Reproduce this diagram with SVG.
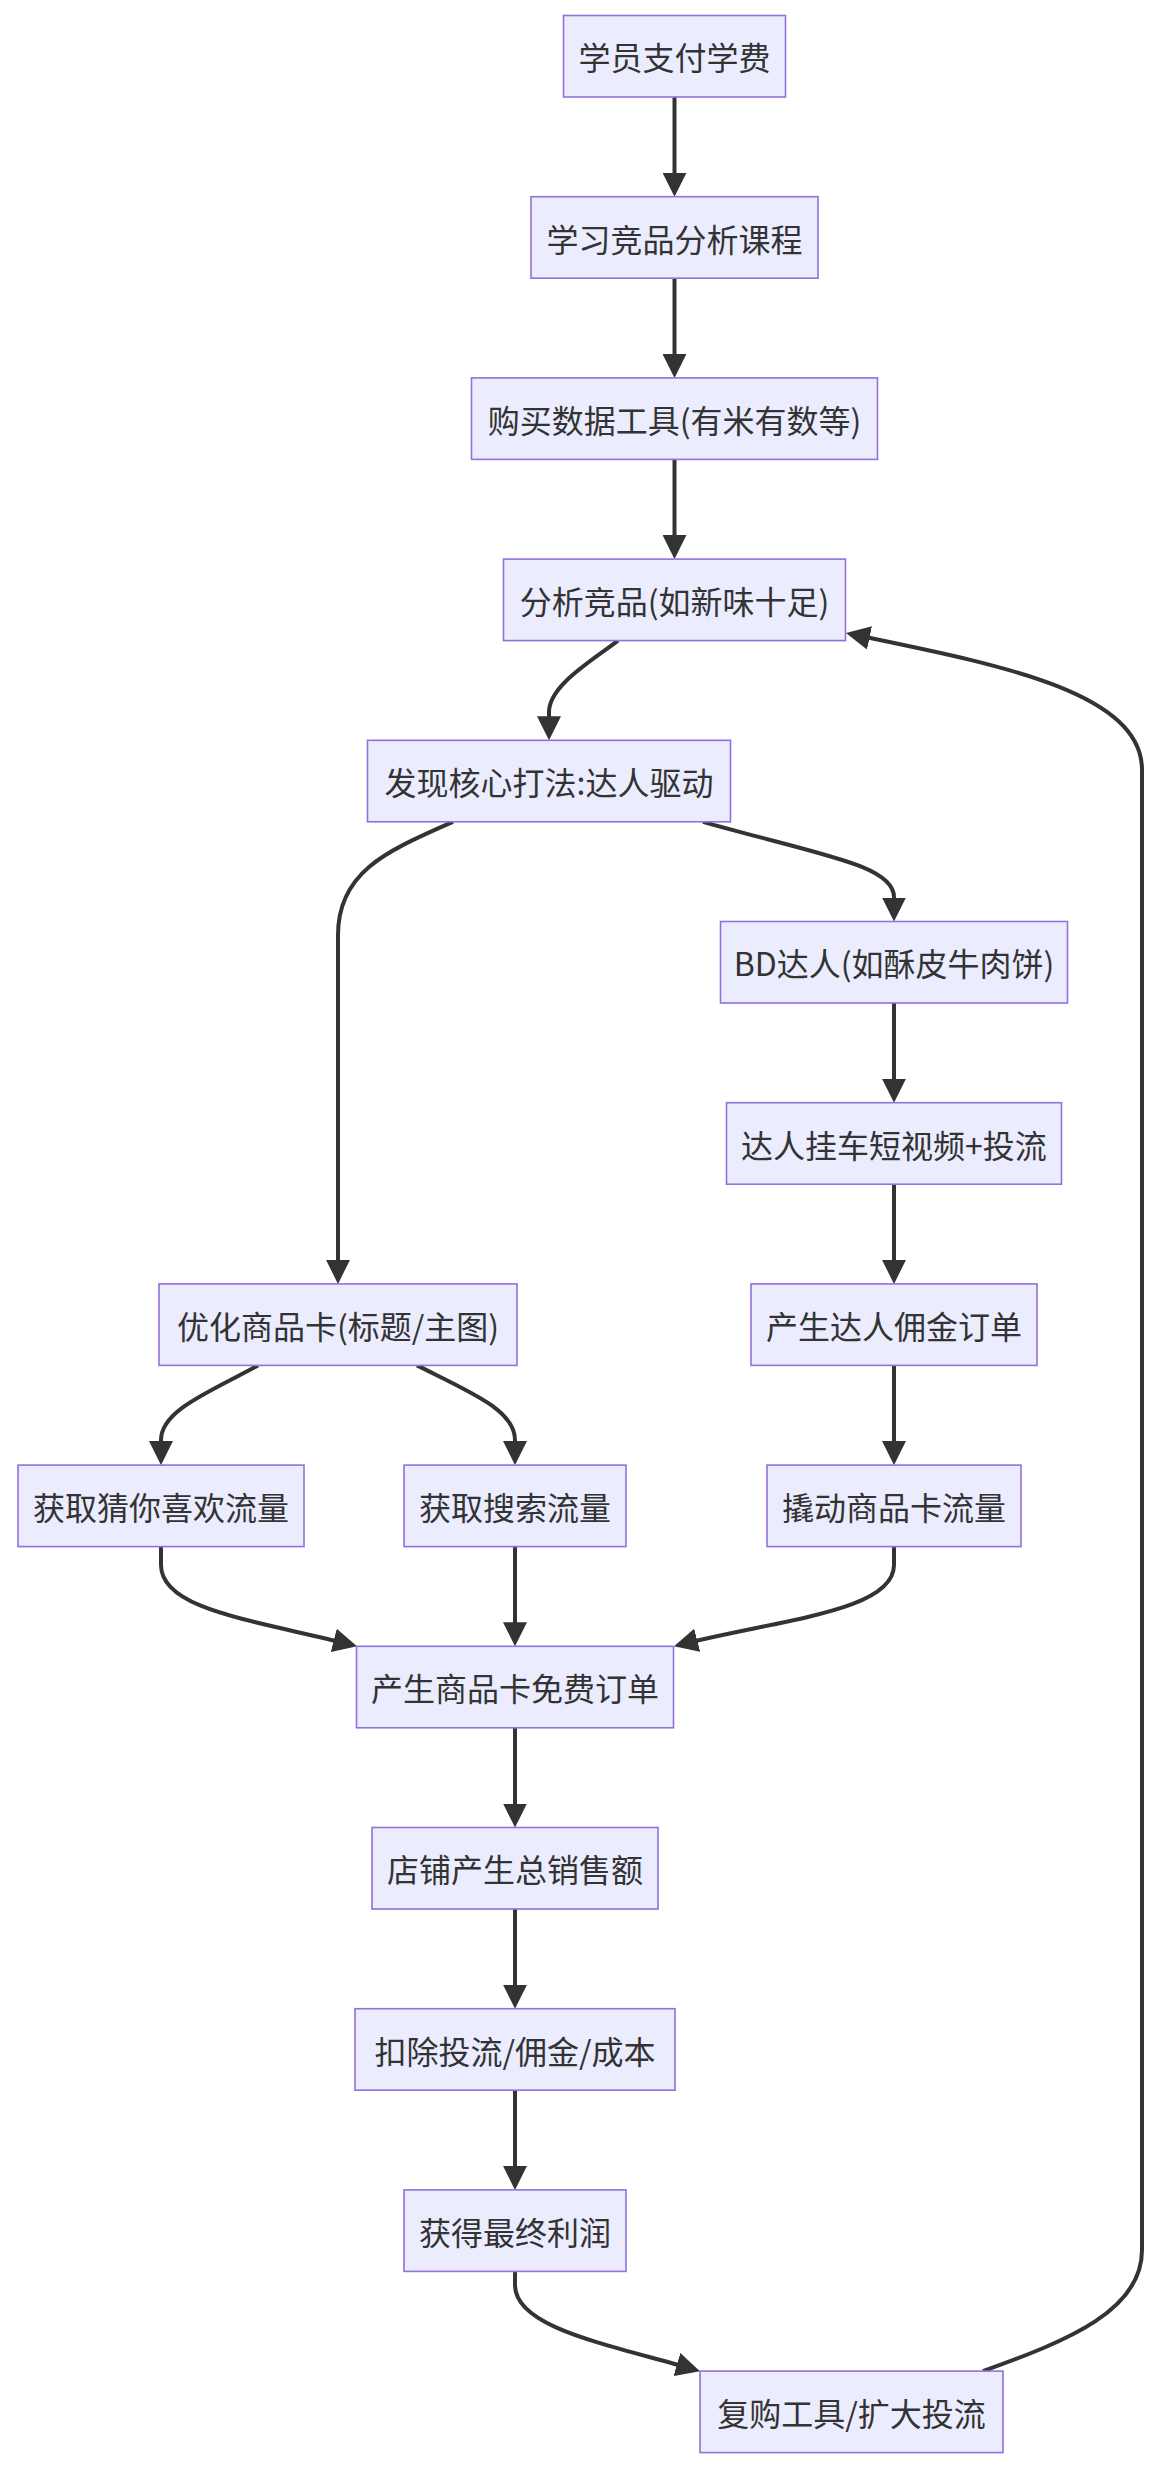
<svg xmlns="http://www.w3.org/2000/svg" width="1160" height="2470" viewBox="0 0 1160 2470">
<style>
.node rect{fill:#ECECFF;stroke:#9370DB;stroke-width:1.6}
.node text{font-family:"Noto Sans CJK SC","Noto Sans",sans-serif;font-size:32px;fill:#333;text-anchor:middle;dominant-baseline:central}
.edges path{fill:none;stroke:#333;stroke-width:4;marker-end:url(#arrow)}
</style>
<defs>
<marker id="arrow" viewBox="0 0 24 24" markerWidth="24" markerHeight="24" markerUnits="userSpaceOnUse" refX="18" refY="12" orient="auto">
<path d="M0,0 L24,12 L0,24 z" fill="#333"/>
</marker>
</defs>
<rect width="1160" height="2470" fill="#fff"/>
<g class="edges">
<path d="M674.5,97 L674.5,190.7"/>
<path d="M674.5,278.2 L674.5,371.9"/>
<path d="M674.5,459.4 L674.5,553.1"/>
<path d="M618,640.6 C590,662 549,686 549,712 L549,734.3"/>
<path d="M453,821.8 C390,850 338,870 338,935 L338,1277.9"/>
<path d="M703,821.8 C820,855 894,865 894,897 L894,915.5"/>
<path d="M894,1003 L894,1096.7"/>
<path d="M894,1184.2 L894,1277.9"/>
<path d="M894,1365.4 L894,1459.1"/>
<path d="M258,1365.4 C210,1392 161,1410 161,1440 L161,1459.1"/>
<path d="M417,1365.4 C470,1392 515,1410 515,1440 L515,1459.1"/>
<path d="M161,1546.6 L161,1565 C161,1610 254,1620 351.2,1644.8"/>
<path d="M515,1546.6 L515,1640.3"/>
<path d="M894,1546.6 L894,1565 C894,1612 776.6,1619.8 679.8,1644.8"/>
<path d="M515,1727.8 L515,1821.5"/>
<path d="M515,1909 L515,2002.7"/>
<path d="M515,2090.2 L515,2183.9"/>
<path d="M515,2271.4 L515,2285 C515,2328 607,2344 694.2,2369.5"/>
<path d="M983,2371.1 C1070,2340 1142,2310 1142,2250 L1142,770 C1142,690 990,663 851.9,634.2"/>
</g>
<g id="n1" class="node"><rect x="563.5" y="15.5" width="222" height="81.5"/><text x="674.5" y="56.3">学员支付学费</text></g>
<g id="n2" class="node"><rect x="531" y="196.7" width="287" height="81.5"/><text x="674.5" y="237.5">学习竞品分析课程</text></g>
<g id="n3" class="node"><rect x="471.5" y="377.9" width="406" height="81.5"/><text x="674.5" y="418.7">购买数据工具(有米有数等)</text></g>
<g id="n4" class="node"><rect x="503.5" y="559.1" width="342" height="81.5"/><text x="674.5" y="599.9">分析竞品(如新味十足)</text></g>
<g id="n5" class="node"><rect x="367.5" y="740.3" width="363" height="81.5"/><text x="549" y="781.1">发现核心打法:达人驱动</text></g>
<g id="n6" class="node"><rect x="720.5" y="921.5" width="347" height="81.5"/><text x="894" y="962.3">BD达人(如酥皮牛肉饼)</text></g>
<g id="n7" class="node"><rect x="726.5" y="1102.7" width="335" height="81.5"/><text x="894" y="1143.5">达人挂车短视频+投流</text></g>
<g id="n8" class="node"><rect x="751" y="1283.9" width="286" height="81.5"/><text x="894" y="1324.7">产生达人佣金订单</text></g>
<g id="n9" class="node"><rect x="767" y="1465.1" width="254" height="81.5"/><text x="894" y="1505.9">撬动商品卡流量</text></g>
<g id="n10" class="node"><rect x="159" y="1283.9" width="358" height="81.5"/><text x="338" y="1324.7">优化商品卡(标题/主图)</text></g>
<g id="n11" class="node"><rect x="18" y="1465.1" width="286" height="81.5"/><text x="161" y="1505.9">获取猜你喜欢流量</text></g>
<g id="n12" class="node"><rect x="404" y="1465.1" width="222" height="81.5"/><text x="515" y="1505.9">获取搜索流量</text></g>
<g id="n13" class="node"><rect x="356.5" y="1646.3" width="317" height="81.5"/><text x="515" y="1687.1">产生商品卡免费订单</text></g>
<g id="n14" class="node"><rect x="372" y="1827.5" width="286" height="81.5"/><text x="515" y="1868.3">店铺产生总销售额</text></g>
<g id="n15" class="node"><rect x="355" y="2008.7" width="320" height="81.5"/><text x="515" y="2049.5">扣除投流/佣金/成本</text></g>
<g id="n16" class="node"><rect x="404" y="2189.9" width="222" height="81.5"/><text x="515" y="2230.7">获得最终利润</text></g>
<g id="n17" class="node"><rect x="700" y="2371.1" width="303" height="81.5"/><text x="851.5" y="2411.9">复购工具/扩大投流</text></g>
</svg>
